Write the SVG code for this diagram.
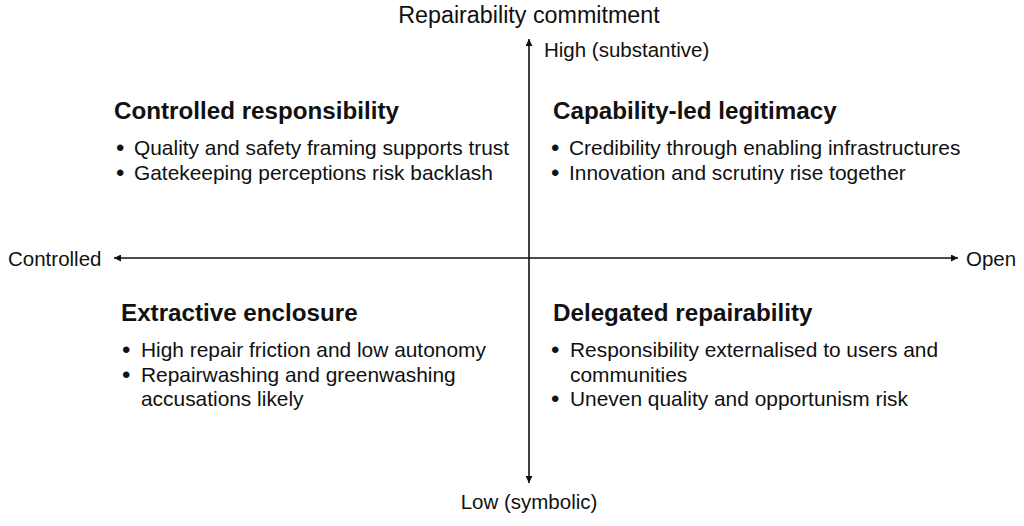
<svg xmlns="http://www.w3.org/2000/svg" width="1024" height="526" viewBox="0 0 1024 526">
<style>
text{font-family:"Liberation Sans",Arial,sans-serif;fill:#111}
.ax{font-size:20.5px}
.ttl{font-size:23.3px}
.h{font-size:24.2px;font-weight:bold}
.b{font-size:20.9px}
.d{font-size:24px}
.axis{stroke:#111;stroke-width:1.6;fill:none}
</style>
<defs>
<marker id="arr" viewBox="0 0 10 10" refX="10" refY="5" markerWidth="7" markerHeight="7" markerUnits="userSpaceOnUse" orient="auto-start-reverse">
<path d="M0,0 L10,5 L0,10 z" fill="#111"/>
</marker>
</defs>
<rect width="1024" height="526" fill="#fff"/>
<g id="connectors">
<line class="axis" x1="529" y1="483" x2="529" y2="39" marker-start="url(#arr)" marker-end="url(#arr)"/>
<line class="axis" x1="114" y1="258" x2="958" y2="258" marker-start="url(#arr)" marker-end="url(#arr)"/>
</g>
<g id="axis-labels">
<text class="ttl" x="529" y="23" text-anchor="middle">Repairability commitment</text>
<text class="ax" x="544" y="57">High (substantive)</text>
<text class="ax" x="529" y="509" text-anchor="middle">Low (symbolic)</text>
<text class="ax" x="8" y="266">Controlled</text>
<text class="ax" x="966" y="266">Open</text>
</g>
<g id="q-controlled-responsibility">
<text class="h" x="114" y="119">Controlled responsibility</text>
<text class="d" x="116" y="156">•</text>
<text class="b" x="134" y="155">Quality and safety framing supports trust</text>
<text class="d" x="116" y="181">•</text>
<text class="b" x="134" y="180">Gatekeeping perceptions risk backlash</text>
</g>
<g id="q-capability-led-legitimacy">
<text class="h" x="553" y="119">Capability-led legitimacy</text>
<text class="d" x="551" y="156">•</text>
<text class="b" x="569" y="155">Credibility through enabling infrastructures</text>
<text class="d" x="551" y="181">•</text>
<text class="b" x="569" y="180">Innovation and scrutiny rise together</text>
</g>
<g id="q-extractive-enclosure">
<text class="h" x="121" y="321">Extractive enclosure</text>
<text class="d" x="122" y="358">•</text>
<text class="b" x="141" y="357">High repair friction and low autonomy</text>
<text class="d" x="122" y="383">•</text>
<text class="b" x="141" y="382">Repairwashing and greenwashing</text>
<text class="b" x="141" y="406">accusations likely</text>
</g>
<g id="q-delegated-repairability">
<text class="h" x="553" y="321">Delegated repairability</text>
<text class="d" x="551" y="358">•</text>
<text class="b" x="570" y="357">Responsibility externalised to users and</text>
<text class="b" x="570" y="382">communities</text>
<text class="d" x="551" y="407">•</text>
<text class="b" x="570" y="406">Uneven quality and opportunism risk</text>
</g>
</svg>
